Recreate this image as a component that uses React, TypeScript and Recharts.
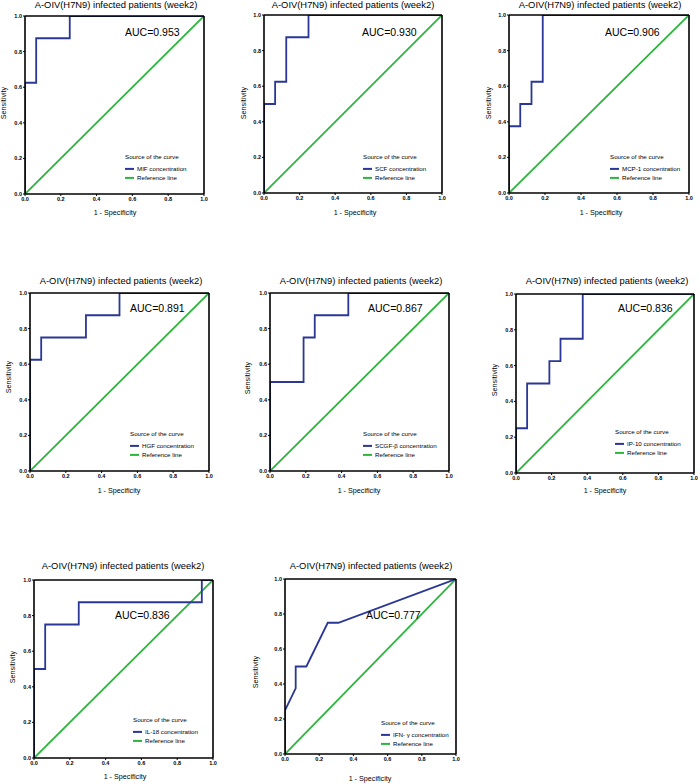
import React from "react";
import { LineChart, Line, XAxis, YAxis, ReferenceLine } from "recharts";

const titleText = "A-OIV(H7N9) infected patients (week2)";
const axisTicks = [0, 0.2, 0.4, 0.6, 0.8, 1.0];
const refFpr = [0, 1];
const refTpr = [0, 1];

const mifFpr = [0, 0, 0.0625, 0.0625, 0.25, 0.25, 1];
const mifTpr = [0, 0.625, 0.625, 0.875, 0.875, 1, 1];
const scfFpr = [0, 0, 0.0625, 0.0625, 0.125, 0.125, 0.25, 0.25, 1];
const scfTpr = [0, 0.5, 0.5, 0.625, 0.625, 0.875, 0.875, 1, 1];
const mcpFpr = [0, 0, 0.0625, 0.0625, 0.125, 0.125, 0.1875, 0.1875, 1];
const mcpTpr = [0, 0.375, 0.375, 0.5, 0.5, 0.625, 0.625, 1, 1];
const hgfFpr = [0, 0, 0.0625, 0.0625, 0.3125, 0.3125, 0.5, 0.5, 1];
const hgfTpr = [0, 0.625, 0.625, 0.75, 0.75, 0.875, 0.875, 1, 1];
const scgfFpr = [0, 0, 0.1875, 0.1875, 0.25, 0.25, 0.4375, 0.4375, 1];
const scgfTpr = [0, 0.5, 0.5, 0.75, 0.75, 0.875, 0.875, 1, 1];
const ip10Fpr = [0, 0, 0.0625, 0.0625, 0.1875, 0.1875, 0.25, 0.25, 0.375, 0.375, 1];
const ip10Tpr = [0, 0.25, 0.25, 0.5, 0.5, 0.625, 0.625, 0.75, 0.75, 1, 1];
const il18Fpr = [0, 0, 0.0625, 0.0625, 0.25, 0.25, 0.9375, 0.9375, 1];
const il18Tpr = [0, 0.5, 0.5, 0.75, 0.75, 0.875, 0.875, 1, 1];
const ifnFpr = [0, 0, 0.0625, 0.0625, 0.125, 0.25, 0.3125, 1];
const ifnTpr = [0, 0.25, 0.375, 0.5, 0.5, 0.75, 0.75, 1];

const markerNames = [
  "MIF concentration",
  "SCF concentration",
  "MCP-1 concentration",
  "HGF concentration",
  "SCGF-β concentration",
  "IP-10 concentration",
  "IL-18 concentration",
  "IFN- γ concentration",
];
const aucValues = ["0.953", "0.930", "0.906", "0.891", "0.867", "0.836", "0.836", "0.777"];

const zip = (xs: number[], ys: number[]) => xs.map((x, i) => ({ x, y: ys[i] }));

const curves = [
  zip(mifFpr, mifTpr),
  zip(scfFpr, scfTpr),
  zip(mcpFpr, mcpTpr),
  zip(hgfFpr, hgfTpr),
  zip(scgfFpr, scgfTpr),
  zip(ip10Fpr, ip10Tpr),
  zip(il18Fpr, il18Tpr),
  zip(ifnFpr, ifnTpr),
];
const refData = zip(refFpr, refTpr);

// layout: plot area box, title center, AUC pos, legend pos, axis label positions
const layouts = [
  { x0: 25, x1: 204, y0: 16, y1: 194, tx: 116, ty: 5, ax: 125, ay: 32, lx: 125, ly: 157, xl: [115, 213], yl: [4, 103] },
  { x0: 264, x1: 442, y0: 15, y1: 193, tx: 353, ty: 5, ax: 362, ay: 32, lx: 363, ly: 157, xl: [355, 213], yl: [244, 103] },
  { x0: 509, x1: 689, y0: 15, y1: 193, tx: 600, ty: 5, ax: 605, ay: 32, lx: 610, ly: 157, xl: [601, 213], yl: [489, 103] },
  { x0: 30, x1: 209, y0: 293, y1: 471, tx: 121, ty: 281, ax: 130, ay: 308, lx: 130, ly: 434, xl: [119, 491], yl: [9, 377] },
  { x0: 270, x1: 449, y0: 293, y1: 471, tx: 361, ty: 281, ax: 368, ay: 308, lx: 363, ly: 434, xl: [359, 491], yl: [248, 378] },
  { x0: 516, x1: 694, y0: 294, y1: 473, tx: 607, ty: 281, ax: 618, ay: 308, lx: 615, ly: 432, xl: [605, 491], yl: [495, 380] },
  { x0: 34, x1: 213, y0: 580, y1: 758, tx: 123, ty: 566, ax: 115, ay: 615, lx: 133, ly: 720, xl: [125, 777], yl: [13, 667] },
  { x0: 285, x1: 456, y0: 579, y1: 754, tx: 371, ty: 566, ax: 366, ay: 615, lx: 381, ly: 723, xl: [370, 779], yl: [256, 672] },
];

const FONT = "'Liberation Sans', Arial, Helvetica, sans-serif";
const BLUE = "#2a3796";
const GREEN = "#2bb53c";
const L = 22, R = 4, T = 4, B = 14;

const tickStyle = { fontSize: 5.5, fontWeight: 700, fill: "#000", fontFamily: FONT };

function Panel({ idx }: { idx: number }) {
  const s = layouts[idx];
  const w = s.x1 - s.x0;
  const h = s.y1 - s.y0;
  const abs = (extra: React.CSSProperties): React.CSSProperties => ({
    position: "absolute",
    fontFamily: FONT,
    color: "#000",
    whiteSpace: "nowrap",
    lineHeight: 1,
    ...extra,
  });
  return (
    <>
      <div style={{ position: "absolute", left: s.x0 - L, top: s.y0 - T }}>
        <LineChart
          width={w + L + R}
          height={h + T + B}
          margin={{ top: T, right: R, bottom: 0, left: 0 }}
        >
          <XAxis
            type="number"
            dataKey="x"
            domain={[0, 1]}
            ticks={axisTicks}
            interval={0}
            tickFormatter={(v: number) => v.toFixed(1)}
            height={B}
            tickSize={2}
            tickMargin={1}
            tick={tickStyle}
            axisLine={{ stroke: "#000", strokeWidth: 1.6 }}
            tickLine={{ stroke: "#000", strokeWidth: 1 }}
            allowDataOverflow
          />
          <YAxis
            type="number"
            dataKey="y"
            domain={[0, 1]}
            ticks={axisTicks}
            interval={0}
            tickFormatter={(v: number) => v.toFixed(1)}
            width={L}
            tickSize={2}
            tickMargin={1}
            tick={tickStyle}
            axisLine={{ stroke: "#000", strokeWidth: 1.6 }}
            tickLine={{ stroke: "#000", strokeWidth: 1 }}
            allowDataOverflow
          />
          <Line
            data={refData}
            dataKey="y"
            type="linear"
            stroke={GREEN}
            strokeWidth={1.8}
            dot={false}
            activeDot={false}
            isAnimationActive={false}
          />
          <Line
            data={curves[idx]}
            dataKey="y"
            type="linear"
            stroke={BLUE}
            strokeWidth={1.8}
            dot={false}
            activeDot={false}
            isAnimationActive={false}
          />
          <ReferenceLine y={1} stroke="#000" strokeWidth={1.6} ifOverflow="visible" />
          <ReferenceLine x={1} stroke="#000" strokeWidth={1.6} ifOverflow="visible" />
        </LineChart>
      </div>
      <div style={abs({ left: s.tx, top: s.ty, fontSize: 9.4, transform: "translate(-50%,-50%)" })}>
        {titleText}
      </div>
      <div style={abs({ left: s.ax, top: s.ay, fontSize: 10.5, transform: "translateY(-50%)" })}>
        AUC={aucValues[idx]}
      </div>
      <div style={abs({ left: s.lx, top: s.ly, fontSize: 6.2, transform: "translateY(-50%)" })}>
        Source of the curve
      </div>
      <div style={abs({ left: s.lx, top: s.ly + 12, fontSize: 6.2, transform: "translateY(-50%)", display: "flex", alignItems: "center" })}>
        <span style={{ display: "inline-block", width: 9, height: 2, background: BLUE, marginRight: 3 }} />
        {markerNames[idx]}
      </div>
      <div style={abs({ left: s.lx, top: s.ly + 20.5, fontSize: 6.2, transform: "translateY(-50%)", display: "flex", alignItems: "center" })}>
        <span style={{ display: "inline-block", width: 9, height: 2, background: GREEN, marginRight: 3 }} />
        Reference line
      </div>
      <div style={abs({ left: s.xl[0], top: s.xl[1], fontSize: 7.2, transform: "translate(-50%,-50%)" })}>
        1 - Specificity
      </div>
      <div style={abs({ left: s.yl[0], top: s.yl[1], fontSize: 7.2, transform: "translate(-50%,-50%) rotate(-90deg)" })}>
        Sensitivity
      </div>
    </>
  );
}

export default function App() {
  return (
    <div style={{ position: "absolute", left: 0, top: 0, width: 700, height: 784, background: "#fff" }}>
      {layouts.map((_, i) => (
        <Panel key={i} idx={i} />
      ))}
    </div>
  );
}
